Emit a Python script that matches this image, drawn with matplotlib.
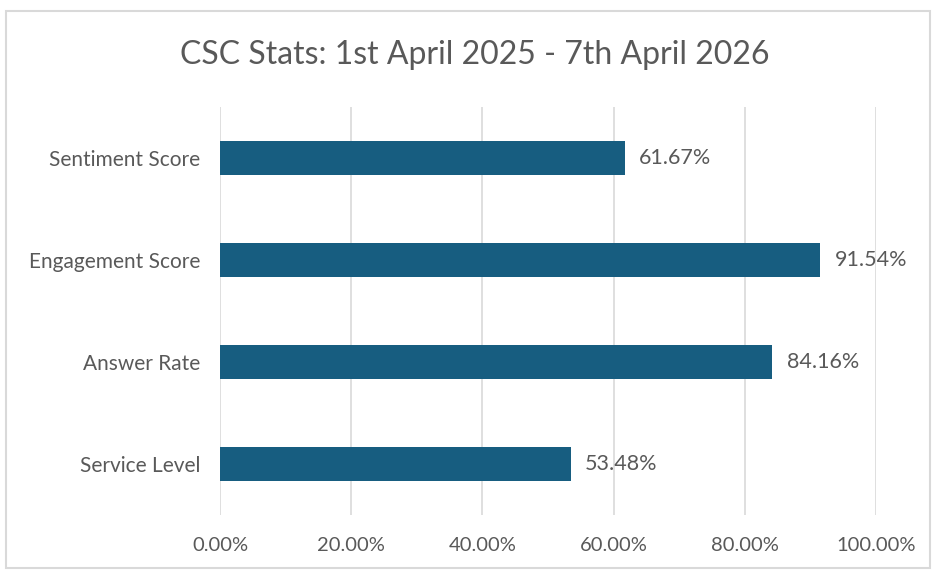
import matplotlib.pyplot as plt
from matplotlib.patches import Rectangle
from matplotlib.ticker import PercentFormatter

# data
categories = ['Service Level', 'Answer Rate', 'Engagement Score', 'Sentiment Score']
values = [53.48, 84.16, 91.54, 61.67]
ticks = [0, 20, 40, 60, 80, 100]

bar_color = '#175d80'
text_color = '#595959'
grid_color = '#d9d9d9'
fnt = ['Lato', 'DejaVu Sans']

fig = plt.figure(figsize=(9.33, 5.70), dpi=100)
ax = fig.add_axes([0.2358, 0.0965, 0.7031, 0.7158])

# chart border (excel style)
fig.patches.append(Rectangle((0.006, 0.004), 0.991, 0.976, transform=fig.transFigure,
                             fill=False, edgecolor=grid_color, linewidth=1.5))

y = range(len(categories))
ax.barh(y, values, height=0.34, color=bar_color, zorder=3)

ax.set_xlim(0, 100)
ax.set_ylim(-0.5, len(categories) - 0.5)
ax.set_xticks(ticks)
ax.xaxis.set_major_formatter(PercentFormatter(decimals=2))
ax.set_yticks(list(y))
ax.set_yticklabels(categories)

ax.grid(axis='x', color=grid_color, linewidth=1.2, zorder=0)
for s in ax.spines.values():
    s.set_visible(False)
ax.tick_params(length=0, colors=text_color)
ax.tick_params(axis='y', labelsize=15, pad=14)
ax.tick_params(axis='x', labelsize=14.5, pad=16)
for lab in ax.get_xticklabels() + ax.get_yticklabels():
    lab.set_family(fnt)

# data labels
for i, v in enumerate(values):
    ax.text(v + 2.2, i, f'{v:.2f}%', va='center', ha='left', fontsize=15.5,
            color=text_color, family=fnt)

fig.text(0.509, 0.903, 'CSC Stats: 1st April 2025 - 7th April 2026', ha='center', va='center',
         fontsize=23, color=text_color, family=fnt)

plt.savefig('out.png', dpi=100)
